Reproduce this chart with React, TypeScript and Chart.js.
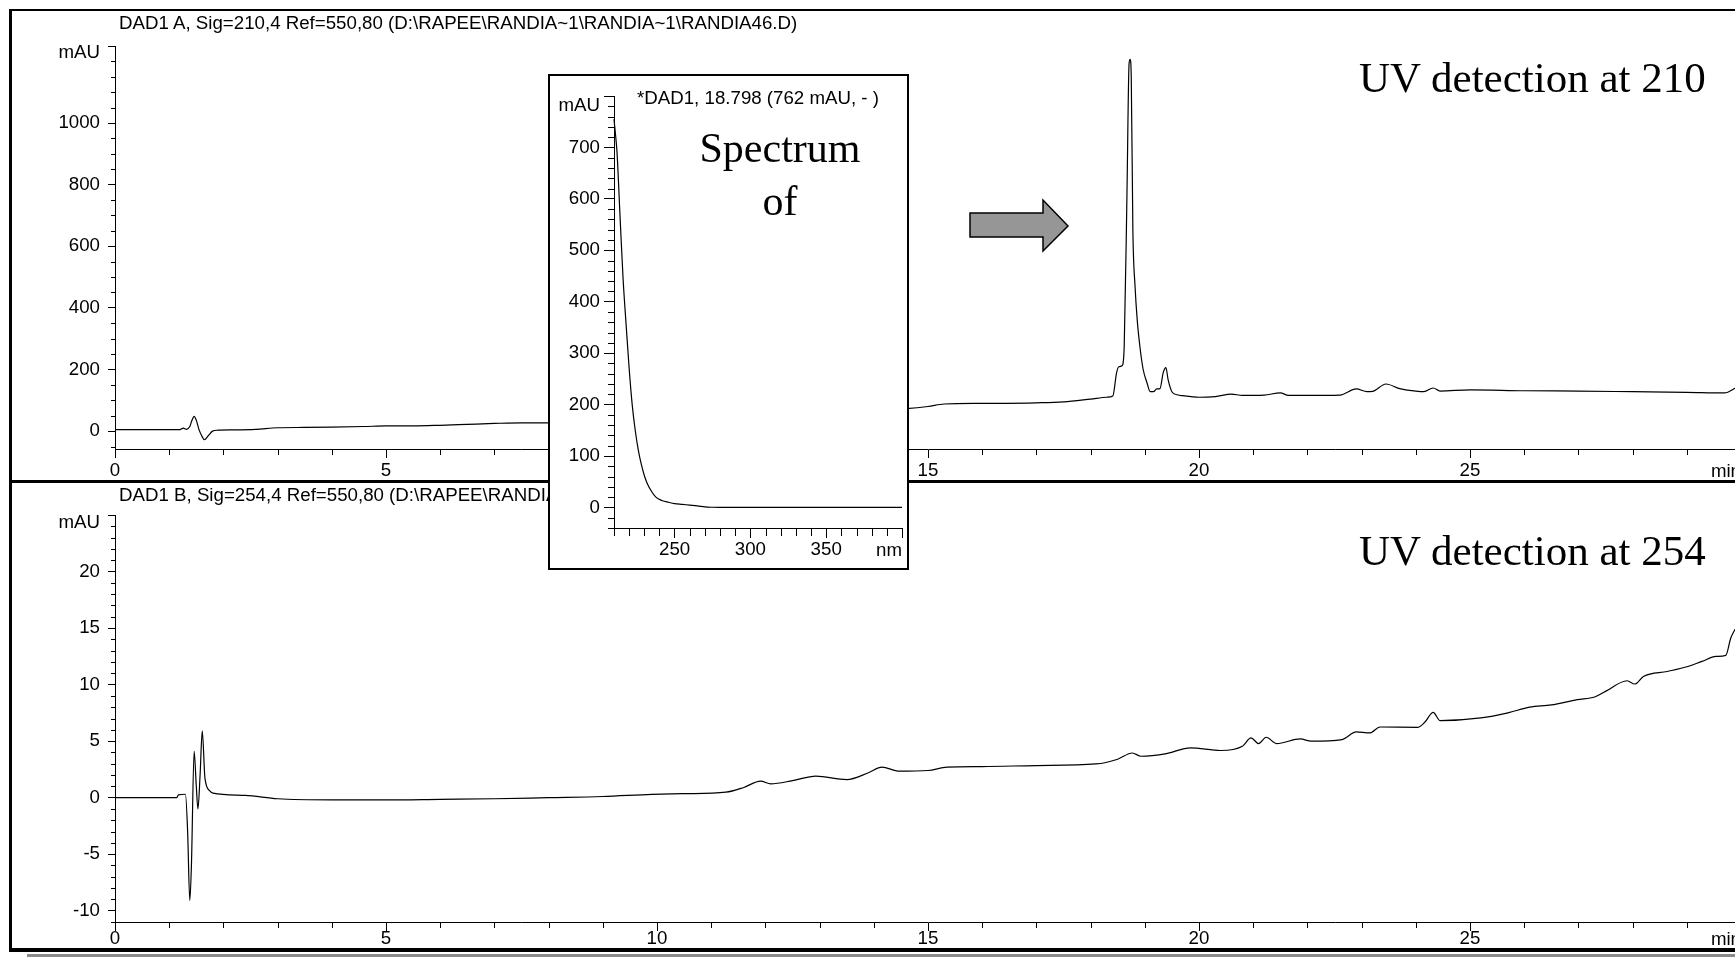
import React, { useEffect, useRef } from "react";
import { Chart, registerables } from "chart.js";

Chart.register(...registerables);

// ---------- Data ----------
const topTitle = "DAD1 A, Sig=210,4 Ref=550,80 (D:\\RAPEE\\RANDIA~1\\RANDIA~1\\RANDIA46.D)";
const bottomTitle = "DAD1 B, Sig=254,4 Ref=550,80 (D:\\RAPEE\\RANDIA~1\\RANDIA~1\\RANDIA46.D)";
const insetTitle = "*DAD1, 18.798 (762 mAU, - )";
const topNote = "UV detection at 210";
const bottomNote = "UV detection at 254";
const insetNote = ["Spectrum", "of"];

// Chromatogram at 210 nm (min, mAU)
const topTimes = [
  0, 0.5, 1.0, 1.2, 1.26, 1.32, 1.38, 1.42, 1.46, 1.5, 1.55, 1.6, 1.65, 1.72, 1.8, 1.9,
  2.2, 2.6, 3.0, 3.5, 4.0, 4.6, 5.0, 5.5, 6.0, 6.5, 7.0, 7.5, 8.0, 9.0, 10.0, 11.0,
  12.0, 13.0, 14.0, 14.6, 15.0, 15.3, 16.0, 17.0, 17.5, 18.0, 18.3, 18.41, 18.48, 18.52,
  18.58, 18.62, 18.67, 18.71, 18.73, 18.75, 18.78, 18.82, 18.86, 18.91, 18.97, 19.04, 19.1, 19.16,
  19.22, 19.28, 19.34, 19.39, 19.43, 19.5, 19.6, 19.7, 20.0, 20.3, 20.6, 20.8, 21.2, 21.5,
  21.65, 22.0, 22.6, 22.9, 23.1, 23.2, 23.45, 23.7, 24.0, 24.15, 24.32, 24.45, 25.0, 26.0,
  27.0, 28.0, 29.0, 29.7, 29.9,
];
const topValues = [
  5, 5, 5, 5, 10, 6, 15, 35, 48, 35, 5, -15, -28, -15, 0, 3,
  4, 6, 11, 12, 13, 15, 17, 17, 19, 22, 25, 27, 27, 32, 38, 45,
  52, 60, 68, 73, 80, 88, 90, 92, 95, 104, 110, 114, 190, 209,
  212, 274, 760, 1193, 1207, 1150, 652, 470, 361, 274, 200, 157, 128, 128,
  137, 138, 190, 206, 167, 128, 118, 115, 110, 112, 120, 116, 117, 124,
  116, 116, 117, 137, 128, 129, 153, 138, 130, 128, 140, 130, 134, 131,
  130, 128, 126, 124, 140,
];

// Chromatogram at 254 nm (min, mAU)
const bottomTimes = [
  0, 1.0, 1.14, 1.17, 1.3, 1.34, 1.38, 1.41, 1.46, 1.5, 1.53, 1.57, 1.61, 1.66, 1.75, 1.81,
  2.4, 3.0, 4.0, 5.0, 6.0, 7.0, 8.0, 9.0, 9.9, 10.5, 11.27, 11.6, 11.91, 12.1, 12.5, 12.93,
  13.5, 13.9, 14.15, 14.47, 15.0, 15.35, 16.0, 17.0, 18.1, 18.5, 18.77, 18.93, 19.4, 19.84,
  20.4, 20.8, 20.96, 21.1, 21.24, 21.43, 21.87, 22.07, 22.64, 22.9, 23.15, 23.34, 24.04, 24.17,
  24.32, 24.45, 25.2, 25.7, 26.1, 26.5, 26.98, 27.3, 27.5, 27.9, 28.04, 28.2, 28.64, 29.02,
  29.28, 29.54, 29.72, 29.81, 29.89,
];
const bottomValues = [
  0, 0, 0, 0.25, 0.3, -3, -9.1, -6, 4.1, 1, -1.0, 2, 5.9, 1.7, 0.6, 0.4,
  0.2, -0.1, -0.2, -0.2, -0.15, -0.1, 0, 0.1, 0.28, 0.35, 0.48, 0.9, 1.46, 1.22, 1.5, 1.9,
  1.6, 2.2, 2.7, 2.34, 2.4, 2.7, 2.75, 2.84, 2.98, 3.4, 3.95, 3.66, 3.9, 4.4,
  4.17, 4.55, 5.28, 4.78, 5.34, 4.78, 5.19, 4.99, 5.13, 5.81, 5.72, 6.25, 6.22, 6.69,
  7.55, 6.81, 7.05, 7.5, 8.0, 8.2, 8.67, 8.9, 9.4, 10.34, 10.05, 10.72, 11.16, 11.6,
  12.05, 12.49, 12.58, 14.1, 14.9,
];

// UV spectrum of the peak at 18.798 min (nm, mAU)
const spectrumNm = [
  210, 211, 212, 214, 216, 218, 220, 222, 224, 226, 228, 230, 232, 235, 238, 242,
  246, 250, 255, 260, 265, 270, 275, 280, 300, 330, 360, 400,
];
const spectrumValues = [
  755, 725, 690, 565, 444, 355, 270, 200, 150, 112, 84, 62, 46, 30, 19, 13,
  10, 7.5, 6, 4.5, 3, 1, 0.3, 0, 0, 0, 0, 0,
];

// Axis ticks and ranges
const timeTicks = [0, 5, 10, 15, 20, 25, 30];
const topYMax = 1250;
const topYTicks = [0, 200, 400, 600, 800, 1000, topYMax];
const bottomYTicks = [-10, -5, 0, 5, 10, 15, 20, 25];
const spectrumXTicks = [250, 300, 350, 400];
const spectrumYTicks = [0, 100, 200, 300, 400, 500, 600, 700, 800];

// ---------- Styling ----------
const SANS = "'Liberation Sans', Arial, Helvetica, sans-serif";
const SERIF = "'Liberation Serif', 'Times New Roman', Times, serif";
const FS = 18.7;

type Spec = {
  xs: number[];
  ys: number[];
  xMin: number;
  xMax: number;
  yMin: number;
  yMax: number;
  xMajor: number[];
  yMajor: number[];
  xMinorStep: number;
  yMinorStep: number;
  xTickLen: number;
  xMinorLen: number;
  yTickLen: number;
  yMinorLen: number;
  xPad: number;
  yPad: number;
  yAxisWidth: number;
  xAxisHeight: number;
  padding: { left: number; top: number; right: number; bottom: number };
  lastXLabel: string;
  unitOffset: number;
};

const axisExtras = {
  id: "axisExtras",
  afterDraw(chart: any, _args: any, opts: any) {
    const { ctx, chartArea } = chart;
    const x = chart.scales.x;
    const y = chart.scales.y;
    ctx.save();
    ctx.strokeStyle = "#000";
    ctx.lineWidth = 1;
    const isMajor = (v: number, majors: number[]) => majors.some((m) => Math.abs(m - v) < 1e-6);
    // minor x ticks
    const xs0 = Math.ceil(x.min / opts.xMinorStep) * opts.xMinorStep;
    for (let v = xs0; v <= x.max + 1e-9; v += opts.xMinorStep) {
      const vv = Math.round(v * 1000) / 1000;
      if (isMajor(vv, opts.xMajor)) continue;
      const px = Math.round(x.getPixelForValue(vv)) + 0.5;
      ctx.beginPath();
      ctx.moveTo(px, chartArea.bottom);
      ctx.lineTo(px, chartArea.bottom + opts.xMinorLen);
      ctx.stroke();
    }
    // minor y ticks
    const ys0 = Math.ceil(y.min / opts.yMinorStep) * opts.yMinorStep;
    for (let v = ys0; v <= y.max + 1e-9; v += opts.yMinorStep) {
      const vv = Math.round(v * 1000) / 1000;
      if (isMajor(vv, opts.yMajor)) continue;
      const py = Math.round(y.getPixelForValue(vv)) + 0.5;
      ctx.beginPath();
      ctx.moveTo(chartArea.left - opts.yMinorLen, py);
      ctx.lineTo(chartArea.left, py);
      ctx.stroke();
    }
    ctx.fillStyle = "#000";
    ctx.font = `${FS}px ${SANS}`;
    // unit label at the end of the x axis, right-aligned to the last tick
    ctx.textAlign = "right";
    ctx.textBaseline = "middle";
    ctx.fillText(
      opts.lastXLabel,
      x.getPixelForValue(x.max),
      chartArea.bottom + opts.xTickLen + opts.xPad + FS * 0.55
    );
    // unit label at the top of the y axis, hanging just below the top bracket
    ctx.fillText("mAU", chartArea.left - opts.yTickLen - opts.yPad, y.getPixelForValue(y.max) + opts.unitOffset);
    ctx.restore();
  },
};

function buildChart(canvas: HTMLCanvasElement, s: Spec) {
  const tickFont = { family: SANS, size: FS, lineHeight: 1 };
  return new Chart(canvas, {
    type: "line",
    data: {
      datasets: [
        {
          data: s.xs.map((x, i) => ({ x, y: s.ys[i] })),
          borderColor: "#000",
          borderWidth: 1.2,
          pointRadius: 0,
          fill: false,
          cubicInterpolationMode: "monotone",
          clip: false as any,
        },
      ],
    },
    options: {
      animation: false,
      responsive: false,
      devicePixelRatio: 1,
      events: [],
      layout: { padding: s.padding },
      plugins: {
        legend: { display: false },
        tooltip: { enabled: false },
        title: { display: false },
        axisExtras: {
          xMinorStep: s.xMinorStep,
          yMinorStep: s.yMinorStep,
          xMajor: s.xMajor,
          yMajor: s.yMajor,
          xMinorLen: s.xMinorLen,
          yMinorLen: s.yMinorLen,
          xTickLen: s.xTickLen,
          yTickLen: s.yTickLen,
          xPad: s.xPad,
          yPad: s.yPad,
          lastXLabel: s.lastXLabel,
          unitOffset: s.unitOffset,
        },
      } as any,
      scales: {
        x: {
          type: "linear",
          min: s.xMin,
          max: s.xMax,
          afterBuildTicks: (sc: any) => {
            sc.ticks = s.xMajor.map((v) => ({ value: v }));
          },
          afterFit: (sc: any) => {
            sc.height = s.xAxisHeight;
          },
          grid: {
            drawOnChartArea: false,
            drawTicks: true,
            tickLength: s.xTickLen,
            color: "#000",
            lineWidth: 1,
          },
          border: { display: true, color: "#000", width: 1 },
          ticks: {
            autoSkip: false,
            maxRotation: 0,
            minRotation: 0,
            padding: s.xPad,
            color: "#000",
            font: tickFont,
            callback: (v: any) => (Math.abs(v - s.xMax) < 1e-9 ? "" : String(v)),
          },
        },
        y: {
          type: "linear",
          min: s.yMin,
          max: s.yMax,
          afterBuildTicks: (sc: any) => {
            sc.ticks = s.yMajor.map((v) => ({ value: v }));
          },
          afterFit: (sc: any) => {
            sc.width = s.yAxisWidth;
          },
          grid: {
            drawOnChartArea: false,
            drawTicks: true,
            tickLength: s.yTickLen,
            color: "#000",
            lineWidth: 1,
          },
          border: { display: true, color: "#000", width: 1 },
          ticks: {
            autoSkip: false,
            padding: s.yPad,
            color: "#000",
            font: tickFont,
            callback: (v: any) => (Math.abs(v - s.yMax) < 1e-9 ? "" : String(v)),
          },
        },
      },
    } as any,
    plugins: [axisExtras as any],
  });
}

export default function App() {
  const topRef = useRef<HTMLCanvasElement>(null);
  const bottomRef = useRef<HTMLCanvasElement>(null);
  const insetRef = useRef<HTMLCanvasElement>(null);

  useEffect(() => {
    const charts: Chart[] = [];
    if (topRef.current) {
      charts.push(
        buildChart(topRef.current, {
          xs: topTimes,
          ys: topValues,
          xMin: 0,
          xMax: 30,
          yMin: -58,
          yMax: topYMax,
          xMajor: timeTicks,
          yMajor: topYTicks,
          xMinorStep: 1,
          yMinorStep: 50,
          xTickLen: 9,
          xMinorLen: 6,
          yTickLen: 7,
          yMinorLen: 4,
          xPad: 4,
          yPad: 8,
          yAxisWidth: 115,
          xAxisHeight: 30,
          padding: { left: 0, top: 46, right: 19, bottom: 3 },
          lastXLabel: "min",
          unitOffset: 7,
        })
      );
    }
    if (bottomRef.current) {
      charts.push(
        buildChart(bottomRef.current, {
          xs: bottomTimes,
          ys: bottomValues,
          xMin: 0,
          xMax: 30,
          yMin: -11,
          yMax: 25,
          xMajor: timeTicks,
          yMajor: bottomYTicks,
          xMinorStep: 1,
          yMinorStep: 1,
          xTickLen: 9,
          xMinorLen: 6,
          yTickLen: 7,
          yMinorLen: 4,
          xPad: -1,
          yPad: 8,
          yAxisWidth: 115,
          xAxisHeight: 30,
          padding: { left: 0, top: 33, right: 19, bottom: 6 },
          lastXLabel: "min",
          unitOffset: 8,
        })
      );
    }
    if (insetRef.current) {
      charts.push(
        buildChart(insetRef.current, {
          xs: spectrumNm,
          ys: spectrumValues,
          xMin: 210,
          xMax: 400,
          yMin: -40,
          yMax: 800,
          xMajor: spectrumXTicks,
          yMajor: spectrumYTicks,
          xMinorStep: 10,
          yMinorStep: 20,
          xTickLen: 10,
          xMinorLen: 8,
          yTickLen: 10,
          yMinorLen: 6,
          xPad: 3,
          yPad: 4,
          yAxisWidth: 64,
          xAxisHeight: 30,
          padding: { left: 0, top: 20, right: 5, bottom: 7 },
          lastXLabel: "nm",
          unitOffset: 10,
        })
      );
    }
    return () => charts.forEach((c) => c.destroy());
  }, []);

  const abs = (o: React.CSSProperties): React.CSSProperties => ({ position: "absolute", ...o });
  const smallText: React.CSSProperties = {
    fontFamily: SANS,
    fontSize: FS,
    lineHeight: `${FS}px`,
    whiteSpace: "nowrap",
    color: "#000",
  };
  const bigText: React.CSSProperties = {
    fontFamily: SERIF,
    fontSize: 43,
    lineHeight: "43px",
    whiteSpace: "nowrap",
    color: "#000",
  };

  return (
    <div
      style={{
        position: "fixed",
        left: 0,
        top: 0,
        width: 1735,
        height: 958,
        overflow: "hidden",
        background: "#fff",
      }}
    >
      {/* outer frame and shadow */}
      <div style={abs({ left: 27, top: 954, width: 1800, height: 3, background: "#8a8a8a" })} />
      <div
        style={abs({
          left: 9,
          top: 9,
          width: 1800,
          height: 943,
          boxSizing: "border-box",
          borderLeft: "3px solid #000",
          borderTop: "2px solid #000",
          borderBottom: "4px solid #000",
        })}
      />
      {/* separator between the two signals */}
      <div style={abs({ left: 9, top: 480, width: 1800, height: 3, background: "#000" })} />

      <canvas ref={topRef} width={1760} height={482} style={abs({ left: 0, top: 0, width: 1760, height: 482 })} />
      <canvas ref={bottomRef} width={1760} height={476} style={abs({ left: 0, top: 482, width: 1760, height: 476 })} />

      <div style={abs({ ...smallText, left: 119, top: 14 })}>{topTitle}</div>
      <div style={abs({ ...smallText, left: 119, top: 486 })}>{bottomTitle}</div>

      {/* inset spectrum */}
      <div
        style={abs({
          left: 548,
          top: 74,
          width: 361,
          height: 496,
          boxSizing: "border-box",
          border: "2px solid #000",
          background: "#fff",
        })}
      />
      <canvas ref={insetRef} width={357} height={489} style={abs({ left: 550, top: 76, width: 357, height: 489 })} />
      <div style={abs({ ...smallText, left: 637, top: 89 })}>{insetTitle}</div>
      <div
        style={abs({
          ...bigText,
          fontSize: 42,
          left: 680,
          top: 122,
          width: 200,
          textAlign: "center",
          lineHeight: "53px",
        })}
      >
        {insetNote[0]}
        <br />
        {insetNote[1]}
      </div>

      {/* arrow */}
      <svg width={110} height={62} style={abs({ left: 965, top: 195 })}>
        <polygon
          points="5,18 78,18 78,5 103,31 78,56 78,42 5,42"
          fill="#969696"
          stroke="#000"
          strokeWidth={1.5}
        />
      </svg>

      <div style={abs({ ...bigText, left: 1359, top: 56 })}>{topNote}</div>
      <div style={abs({ ...bigText, left: 1359, top: 529 })}>{bottomNote}</div>
    </div>
  );
}
